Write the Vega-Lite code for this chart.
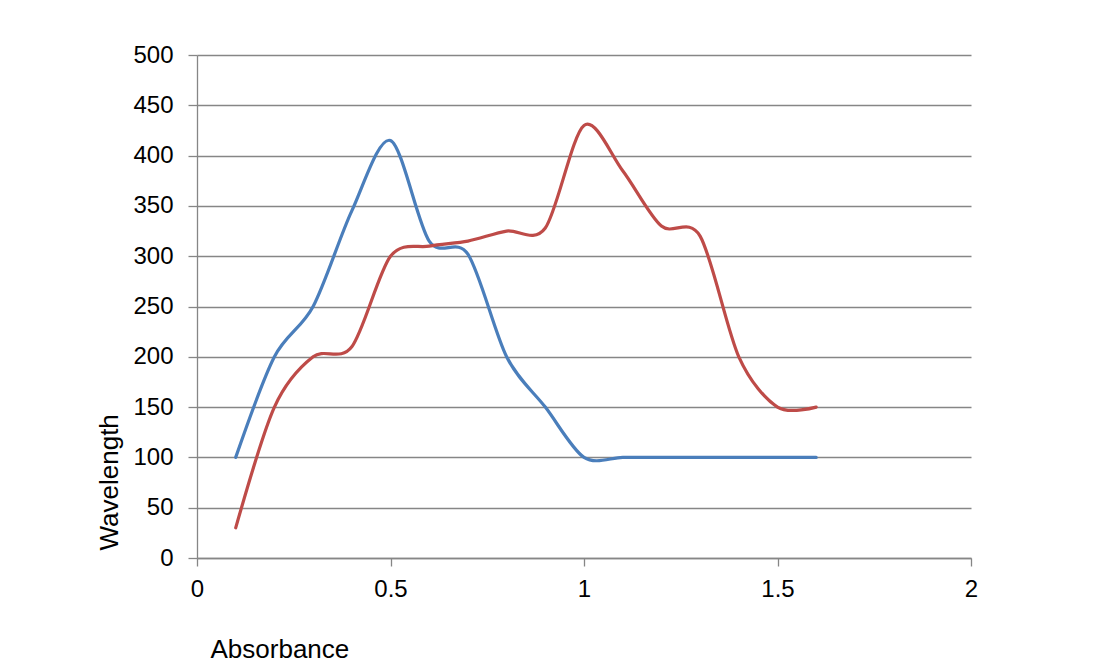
{
  "$schema": "https://vega.github.io/schema/vega-lite/v6.json",
  "width": 774,
  "height": 503,
  "autosize": {"type": "none"},
  "padding": {"left": 197, "top": 55, "right": 148, "bottom": 108},
  "background": "white",
  "config": {
    "view": {"stroke": null},
    "font": "Liberation Sans"
  },
  "data": {
    "values": [
      {"absorbance": 0.1, "wavelength": 100, "series": "Series1"},
      {"absorbance": 0.2, "wavelength": 200, "series": "Series1"},
      {"absorbance": 0.3, "wavelength": 250, "series": "Series1"},
      {"absorbance": 0.4, "wavelength": 345, "series": "Series1"},
      {"absorbance": 0.5, "wavelength": 415, "series": "Series1"},
      {"absorbance": 0.6, "wavelength": 315, "series": "Series1"},
      {"absorbance": 0.7, "wavelength": 302, "series": "Series1"},
      {"absorbance": 0.8, "wavelength": 200, "series": "Series1"},
      {"absorbance": 0.9, "wavelength": 150, "series": "Series1"},
      {"absorbance": 1.0, "wavelength": 100, "series": "Series1"},
      {"absorbance": 1.1, "wavelength": 100, "series": "Series1"},
      {"absorbance": 1.2, "wavelength": 100, "series": "Series1"},
      {"absorbance": 1.3, "wavelength": 100, "series": "Series1"},
      {"absorbance": 1.4, "wavelength": 100, "series": "Series1"},
      {"absorbance": 1.5, "wavelength": 100, "series": "Series1"},
      {"absorbance": 1.6, "wavelength": 100, "series": "Series1"},
      {"absorbance": 0.1, "wavelength": 30, "series": "Series2"},
      {"absorbance": 0.2, "wavelength": 150, "series": "Series2"},
      {"absorbance": 0.3, "wavelength": 200, "series": "Series2"},
      {"absorbance": 0.4, "wavelength": 210, "series": "Series2"},
      {"absorbance": 0.5, "wavelength": 300, "series": "Series2"},
      {"absorbance": 0.6, "wavelength": 310, "series": "Series2"},
      {"absorbance": 0.7, "wavelength": 315, "series": "Series2"},
      {"absorbance": 0.8, "wavelength": 325, "series": "Series2"},
      {"absorbance": 0.9, "wavelength": 328, "series": "Series2"},
      {"absorbance": 1.0, "wavelength": 430, "series": "Series2"},
      {"absorbance": 1.1, "wavelength": 385, "series": "Series2"},
      {"absorbance": 1.2, "wavelength": 330, "series": "Series2"},
      {"absorbance": 1.3, "wavelength": 320, "series": "Series2"},
      {"absorbance": 1.4, "wavelength": 200, "series": "Series2"},
      {"absorbance": 1.5, "wavelength": 150, "series": "Series2"},
      {"absorbance": 1.6, "wavelength": 150, "series": "Series2"}
    ]
  },
  "mark": {"type": "line", "interpolate": "cardinal", "tension": 0.1, "strokeWidth": 3.2, "strokeCap": "round"},
  "encoding": {
    "x": {
      "field": "absorbance",
      "type": "quantitative",
      "scale": {"domain": [0, 2], "nice": false, "zero": true},
      "axis": {
        "title": "Absorbance",
        "values": [0, 0.5, 1, 1.5, 2],
        "format": "~g",
        "grid": false,
        "domainColor": "#868686",
        "domainWidth": 1.3,
        "tickColor": "#868686",
        "tickWidth": 1.3,
        "tickSize": 8,
        "labelPadding": 11,
        "labelFontSize": 24,
        "labelFont": "Liberation Sans",
        "labelColor": "#000000",
        "labelFlush": false,
        "titleFontSize": 26,
        "titleFontWeight": "normal",
        "titleColor": "#000000",
        "titleX": 13,
        "titleY": 99,
        "titleAlign": "left",
        "titleBaseline": "alphabetic",
        "titleAnchor": null
      }
    },
    "y": {
      "field": "wavelength",
      "type": "quantitative",
      "scale": {"domain": [0, 500], "nice": false},
      "axis": {
        "title": "Wavelength",
        "values": [0, 50, 100, 150, 200, 250, 300, 350, 400, 450, 500],
        "grid": true,
        "gridColor": "#868686",
        "gridWidth": 1.3,
        "domainColor": "#868686",
        "domainWidth": 1.3,
        "tickColor": "#868686",
        "tickWidth": 1.3,
        "tickSize": 9,
        "labelPadding": 15,
        "labelFontSize": 24,
        "labelFont": "Liberation Sans",
        "labelColor": "#000000",
        "labelFlush": false,
        "titleFontSize": 26,
        "titleFontWeight": "normal",
        "titleColor": "#000000",
        "titleX": -80,
        "titleY": 495,
        "titleAngle": -90,
        "titleAlign": "left",
        "titleBaseline": "alphabetic",
        "titleAnchor": null
      }
    },
    "color": {
      "field": "series",
      "type": "nominal",
      "scale": {"domain": ["Series1", "Series2"], "range": ["#4A7EBB", "#BE4B48"]},
      "legend": null
    }
  }
}
